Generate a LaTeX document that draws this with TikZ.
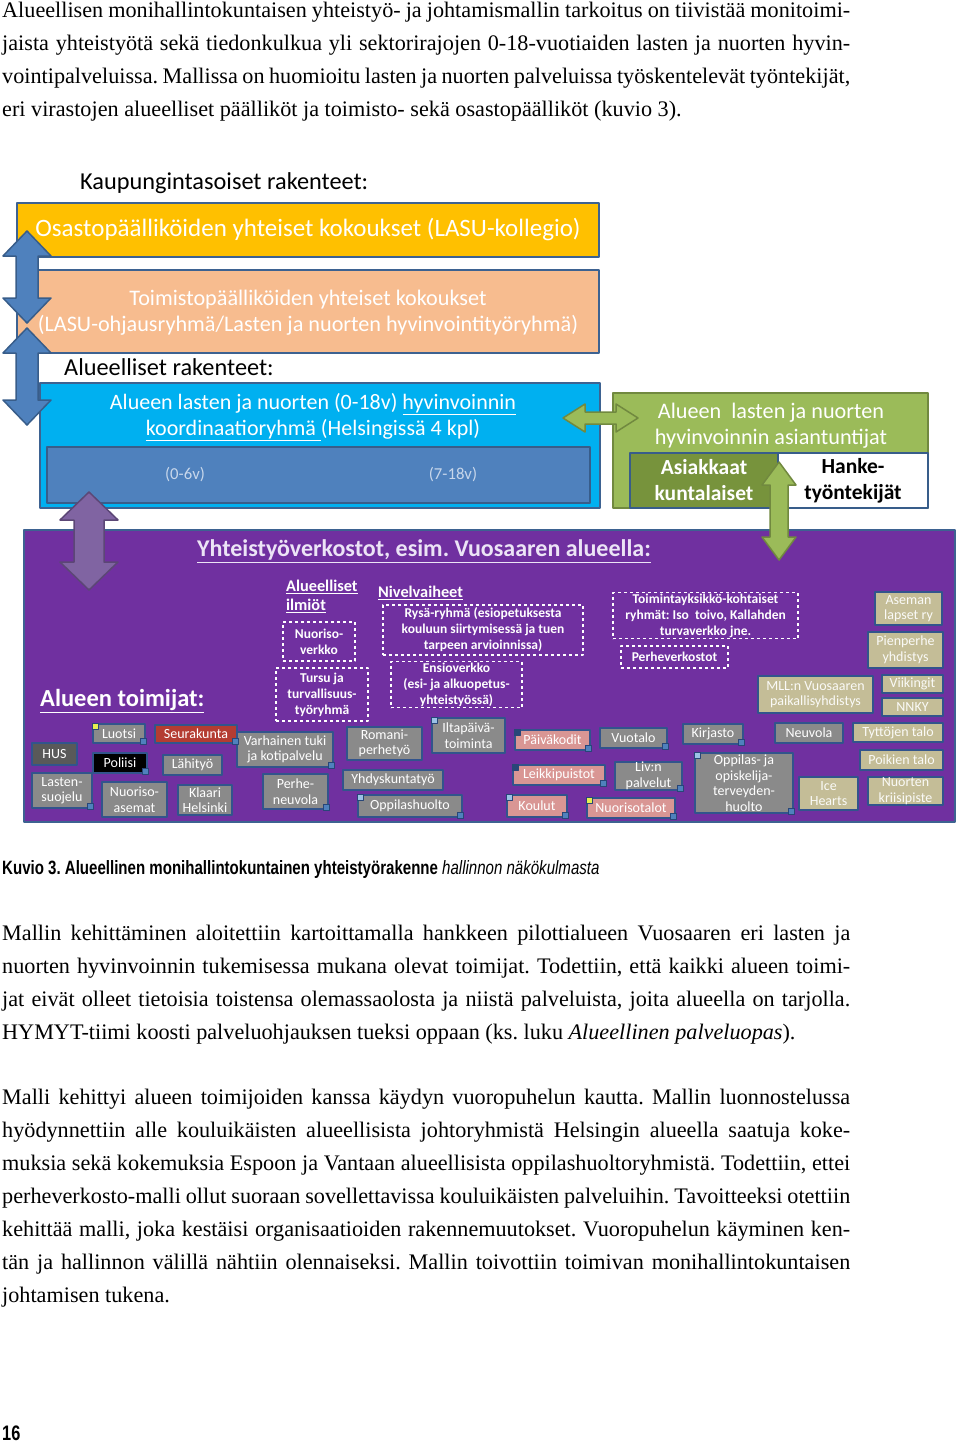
\documentclass[tikz,border=0pt]{standalone}
\usepackage{fontspec}
\setmainfont{Liberation Serif}
\newfontfamily\dgm{Carlito}
\newfontfamily\capf[FakeStretch=0.78]{Liberation Sans}
\newcommand{\fsz}[2]{\fontsize{#1pt}{#2pt}\selectfont}
\newcommand{\jl}[1]{\makebox[848pt][s]{#1}}
\frenchspacing
% pystysuora ja vaakasuora kaksoisnuoli
\newcommand{\vdarr}[7]{%
  \filldraw[#1] (#2,#3) -- ({#2+#6},{#3+#5}) -- ({#2+#7},{#3+#5}) -- ({#2+#7},{#4-#5})
    -- ({#2+#6},{#4-#5}) -- (#2,#4) -- ({#2-#6},{#4-#5}) -- ({#2-#7},{#4-#5})
    -- ({#2-#7},{#3+#5}) -- ({#2-#6},{#3+#5}) -- cycle;}
\newcommand{\hdarr}[7]{%
  \filldraw[#1] (#3,#2) -- ({#3+#5},{#2-#6}) -- ({#3+#5},{#2-#7}) -- ({#4-#5},{#2-#7})
    -- ({#4-#5},{#2-#6}) -- (#4,#2) -- ({#4-#5},{#2+#6}) -- ({#4-#5},{#2+#7})
    -- ({#3+#5},{#2+#7}) -- ({#3+#5},{#2+#6}) -- cycle;}
\definecolor{kulta}{RGB}{255,192,0}
\definecolor{persikka}{RGB}{247,188,143}
\definecolor{reuna}{RGB}{61,98,145}
\definecolor{syaani}{RGB}{0,176,240}
\definecolor{sininen}{RGB}{79,129,189}
\definecolor{tsininen}{RGB}{56,93,138}
\definecolor{vihrea}{RGB}{155,187,89}
\definecolor{tvihrea}{RGB}{119,147,60}
\definecolor{vreuna}{RGB}{113,137,63}
\definecolor{violetti}{RGB}{112,48,160}
\definecolor{lila}{RGB}{128,100,162}
\definecolor{tlila}{RGB}{92,71,118}
\definecolor{harmaa}{RGB}{138,138,138}
\definecolor{tharmaa}{RGB}{89,89,89}
\definecolor{roosa}{RGB}{217,150,148}
\definecolor{beige}{RGB}{196,189,151}
\definecolor{punainen}{RGB}{180,60,50}
\definecolor{laatreuna}{RGB}{50,84,140}
\definecolor{vaalea}{RGB}{236,228,246}
\definecolor{keltainen}{RGB}{230,240,80}
\definecolor{vsininen}{RGB}{155,194,230}
\definecolor{ksininen}{RGB}{40,70,120}
\definecolor{haalea}{RGB}{200,215,235}
\begin{document}
\begin{tikzpicture}[x=1pt, y=-1pt, line join=round,
    ptxt/.style={anchor=west, inner sep=0pt, font=\rmfamily\fsz{22.2}{26}},
    lohko/.style={draw=reuna, line width=2.5pt, inner sep=0pt},
    laat/.style={draw=laatreuna, line width=2pt, inner sep=0pt, align=center, text=white, font=\dgm\fsz{14}{15.5}},
    gbox/.style={laat, fill=harmaa},
    pbox/.style={laat, fill=roosa},
    tbox/.style={laat, fill=beige, text=white!92!beige},
    dbox/.style={draw=white, dashed, line width=1.2pt, inner sep=0pt, align=center, text=white, font=\dgm\bfseries\fsz{13.5}{16}},
    sq/.style={draw=ksininen, line width=0.5pt, minimum size=6pt, inner sep=0pt},
    sarrow/.style={fill=sininen, draw=tsininen, line width=1.5pt},
    larrow/.style={fill=lila, draw=tlila, line width=1.5pt},
    varrow/.style={fill=vihrea, draw=vreuna, line width=1.5pt}]
\useasboundingbox (0,0) rectangle (960,1442);
\fill[white] (0,0) rectangle (960,1442);

% leipateksti
\node[ptxt] (a1) at (2,12) {\jl{Alueellisen monihallintokuntaisen yhteistyö- ja johtamismallin tarkoitus on tiivistää monitoimi-}};
\node[ptxt] (a2) at (2,45) {\jl{jaista yhteistyötä sekä tiedonkulkua yli sektorirajojen 0-18-vuotiaiden lasten ja nuorten hyvin-}};
\node[ptxt] (a3) at (2,78) {\jl{vointipalveluissa. Mallissa on huomioitu lasten ja nuorten palveluissa työskentelevät työntekijät,}};
\node[ptxt] (a4) at (2,111) {eri virastojen alueelliset päälliköt ja toimisto- sekä osastopäälliköt (kuvio 3).};

\node[ptxt] (b1) at (2,935) {\jl{Mallin kehittäminen aloitettiin kartoittamalla hankkeen pilottialueen Vuosaaren eri lasten ja}};
\node[ptxt] (b2) at (2,968) {\jl{nuorten hyvinvoinnin tukemisessa mukana olevat toimijat. Todettiin, että kaikki alueen toimi-}};
\node[ptxt] (b3) at (2,1001) {\jl{jat eivät olleet tietoisia toistensa olemassaolosta ja niistä palveluista, joita alueella on tarjolla.}};
\node[ptxt] (b4) at (2,1034) {HYMYT-tiimi koosti palveluohjauksen tueksi oppaan (ks. luku \textit{Alueellinen palveluopas}).};

\node[ptxt] (c1) at (2,1099) {\jl{Malli kehittyi alueen toimijoiden kanssa käydyn vuoropuhelun kautta. Mallin luonnostelussa}};
\node[ptxt] (c2) at (2,1132) {\jl{hyödynnettiin alle kouluikäisten alueellisista johtoryhmistä Helsingin alueella saatuja koke-}};
\node[ptxt] (c3) at (2,1165) {\jl{muksia sekä kokemuksia Espoon ja Vantaan alueellisista oppilashuoltoryhmistä. Todettiin, ettei}};
\node[ptxt] (c4) at (2,1198) {\jl{perheverkosto-malli ollut suoraan sovellettavissa kouluikäisten palveluihin. Tavoitteeksi otettiin}};
\node[ptxt] (c5) at (2,1231) {\jl{kehittää malli, joka kestäisi organisaatioiden rakennemuutokset. Vuoropuhelun käyminen ken-}};
\node[ptxt] (c6) at (2,1264) {\jl{tän ja hallinnon välillä nähtiin olennaiseksi. Mallin toivottiin toimivan monihallintokuntaisen}};
\node[ptxt] (c7) at (2,1297) {johtamisen tukena.};

\node[anchor=west, inner sep=0pt, font=\capf\bfseries\fsz{19.3}{21}] (kuvio) at (2,870)
  {Kuvio 3. Alueellinen monihallintokuntainen yhteistyörakenne {\mdseries\itshape hallinnon näkökulmasta}};
\node[anchor=west, inner sep=0pt, font=\capf\bfseries\fsz{21}{22}] (sivu) at (2,1433) {16};

% kaupungintasoiset rakenteet
\node[anchor=west, inner sep=0pt, font=\dgm\fsz{24.3}{26}] (kaup) at (80,183) {Kaupungintasoiset rakenteet:};
\node[lohko, fill=kulta, minimum width=582pt, minimum height=54pt] (kollegio) at (308,230) {};
\node[text=white, font=\dgm\fsz{25}{28}] at (308,230) {Osastopäälliköiden yhteiset kokoukset (LASU-kollegio)};
\node[lohko, fill=persikka, minimum width=582pt, minimum height=83pt] (ohjaus) at (308,311.5) {};
\node[text=white, align=center, font=\dgm\fsz{22.2}{26}] (ohjausteksti) at (308,313)
  {Toimistopäälliköiden yhteiset kokoukset\\(LASU-ohjausryhmä/Lasten ja nuorten hyvinvointityöryhmä)};

% alueelliset rakenteet
\node[anchor=west, inner sep=0pt, font=\dgm\fsz{24.3}{26}] (alue) at (64,367) {Alueelliset rakenteet:};
\node[lohko, fill=syaani, minimum width=560pt, minimum height=125pt] (koord) at (320,445.5) {};
\node[text=white, align=center, font=\dgm\fsz{22}{26}] (koordteksti) at (313,417)
  {Alueen lasten ja nuorten (0-18v) \underline{hyvinvoinnin}\\\underline{koordinaatioryhmä\ }(Helsingissä 4 kpl)};
\node[draw=tsininen, line width=2pt, fill=sininen, minimum width=543pt, minimum height=56pt] (ikaryhmat) at (318.5,475) {};
\node[text=haalea, font=\dgm\fsz{16.7}{18}] (pienet) at (185,475) {(0-6v)};
\node[text=haalea, font=\dgm\fsz{16.7}{18}] (isot) at (453,475) {(7-18v)};

\node[draw=vreuna, line width=2.5pt, fill=vihrea, minimum width=315pt, minimum height=115pt] (asiantuntijat) at (770.5,450.5) {};
\node[text=white, align=center, font=\dgm\fsz{22.2}{26}] (asiantext) at (771,426) {Alueen\ \ lasten ja nuorten\\hyvinvoinnin asiantuntijat};
\node[draw=tsininen, line width=2pt, fill=tvihrea, minimum width=148pt, minimum height=55pt, text=white, align=center,
  font=\dgm\bfseries\fsz{21.5}{26}] (asiakkaat) at (704,480.5) {Asiakkaat\\kuntalaiset};
\node[draw=tsininen, line width=2pt, fill=white, minimum width=150pt, minimum height=55pt, align=center,
  font=\dgm\bfseries\fsz{21.5}{26}] (hanke) at (853,480.5) {Hanke-\\työntekijät};

% yhteistyoverkostot
\node[draw=reuna, line width=2.5pt, fill=violetti, minimum width=931pt, minimum height=292pt] (verkosto) at (489.5,676) {};
\node[text=vaalea, font=\dgm\bfseries\fsz{24}{26}] (otsikko) at (424,551) {\underline{Yhteistyöverkostot, esim. Vuosaaren alueella:}};
\node[anchor=west, inner sep=0pt, text=white, font=\dgm\bfseries\fsz{24.5}{26}] (toimijat) at (40,701) {\underline{Alueen toimijat:}};
\node[anchor=north west, inner sep=0pt, align=left, text=white, font=\dgm\bfseries\fsz{16.3}{19}] (ilmiot) at (286,580)
  {\underline{Alueelliset}\\\underline{ilmiöt}};
\node[anchor=west, inner sep=0pt, text=white, font=\dgm\bfseries\fsz{16.3}{19}] (nivel) at (378,593) {\underline{Nivelvaiheet}};

\node[dbox, minimum width=72pt, minimum height=39pt] (nverkko) at (319,641.5) {Nuoriso-\\verkko};
\node[dbox, minimum width=92pt, minimum height=53pt] (tursu) at (322,694.5) {Tursu ja\\turvallisuus-\\työryhmä};
\node[dbox, minimum width=200pt, minimum height=50pt] (rysa) at (483,630)
  {Rysä-ryhmä (esiopetuksesta\\kouluun siirtymisessä ja tuen\\tarpeen arvioinnissa)};
\node[dbox, minimum width=131pt, minimum height=46pt] (ensio) at (456.5,684.5) {Ensioverkko\\(esi- ja alkuopetus-\\yhteistyössä)};
\node[dbox, minimum width=185pt, minimum height=46pt] (toimyks) at (705.5,615.5)
  {Toimintayksikkö-kohtaiset\\ryhmät: Iso\ \ toivo, Kallahden\\turvaverkko jne.};
\node[dbox, minimum width=107pt, minimum height=22pt] (perhev) at (674.5,657) {Perheverkostot};

% harmaat laatikot
\node[gbox, fill=tharmaa, minimum width=45pt, minimum height=22pt] (hus) at (54.5,754) {HUS};
\node[gbox, fill=black, minimum width=54pt, minimum height=20pt] (poliisi) at (120,763) {Poliisi};
\node[gbox, fill=punainen, minimum width=82pt, minimum height=18pt] (seurakunta) at (196,734) {Seurakunta};
\foreach \n/\a/\b/\c/\d/\txt in {
    luotsi/93/724/145/743/Luotsi,
    lahityo/163/755/222/775/Lähityö,
    varhainen/237/732/333/767/Varhainen tuki\\ja kotipalvelu,
    lastensuojelu/32/773/92/808/Lasten-\\suojelu,
    nuorisoasemat/102/782/167/817/Nuoriso-\\asemat,
    klaari/178/785/232/815/Klaari\\Helsinki,
    perheneuvola/263/774/328/809/Perhe-\\neuvola,
    romani/347/727/422/760/Romani-\\perhetyö,
    iltapaiva/432/718/505/753/Iltapäivä-\\toiminta,
    yhdyskunta/343/770/443/790/Yhdyskuntatyö,
    oppilashuolto/358/795/462/817/Oppilashuolto,
    vuotalo/600/728/667/748/Vuotalo,
    livn/615/762/682/790/Liv:n\\palvelut,
    kirjasto/683/724/743/744/Kirjasto,
    oppilasterveys/695/753/793/813/Oppilas- ja\\opiskelija-\\terveyden-\\huolto,
    neuvola/775/723/843/743/Neuvola}
  \node[gbox, minimum width={(\c-\a)*1pt}, minimum height={(\d-\b)*1pt}] (\n) at ({(\a+\c)/2},{(\b+\d)/2}) {\txt};
% roosat laatikot
\foreach \n/\a/\b/\c/\d/\txt in {
    paivakodit/515/730/590/750/Päiväkodit,
    leikkipuistot/513/765/605/785/Leikkipuistot,
    koulut/507/795/567/817/Koulut,
    nuorisotalot/587/798/675/818/Nuorisotalot}
  \node[pbox, minimum width={(\c-\a)*1pt}, minimum height={(\d-\b)*1pt}] (\n) at ({(\a+\c)/2},{(\b+\d)/2}) {\txt};
% jarjestot
\foreach \n/\a/\b/\c/\d/\txt in {
    aseman/875/592/942/625/Aseman\\lapset ry,
    pienperhe/868/632/943/668/Pienperhe\\yhdistys,
    mll/758/676/873/713/MLL:n Vuosaaren\\paikallisyhdistys,
    viikingit/882/675/943/693/Viikingit,
    nnky/882/698/943/716/NNKY,
    tyttojen/853/723/943/742/Tyttöjen talo,
    poikien/860/750/943/770/Poikien talo,
    ice/799/777/858/810/Ice\\Hearts,
    kriisi/868/777/943/805/Nuorten\\kriisipiste}
  \node[tbox, minimum width={(\c-\a)*1pt}, minimum height={(\d-\b)*1pt}] (\n) at ({(\a+\c)/2},{(\b+\d)/2}) {\txt};

% kulmaneliot
\foreach \n in {luotsi,seurakunta,poliisi,varhainen,lastensuojelu,perheneuvola,oppilashuolto,
    paivakodit,leikkipuistot,koulut,nuorisotalot,vuotalo,livn,kirjasto,oppilasterveys}
  \node[sq, fill=sininen] at ([shift={(-3,-3)}]\n.south east) {};
\foreach \n/\v in {luotsi/keltainen,nuorisotalot/keltainen,iltapaiva/vsininen,oppilashuolto/vsininen,
    koulut/vsininen,oppilasterveys/vsininen,paivakodit/ksininen,leikkipuistot/ksininen}
  \node[sq, fill=\v] at ([shift={(3,3)}]\n.north west) {};

% nuolet
\vdarr{sarrow}{27}{231}{323}{25}{24}{11}
\vdarr{sarrow}{27}{328}{425}{25}{24}{11}
\vdarr{larrow}{89}{492}{590}{28}{29}{15}
\vdarr{varrow}{779}{462}{560}{23}{17}{9}
\hdarr{varrow}{418}{563}{638}{22}{14}{6}
\end{tikzpicture}
\end{document}
